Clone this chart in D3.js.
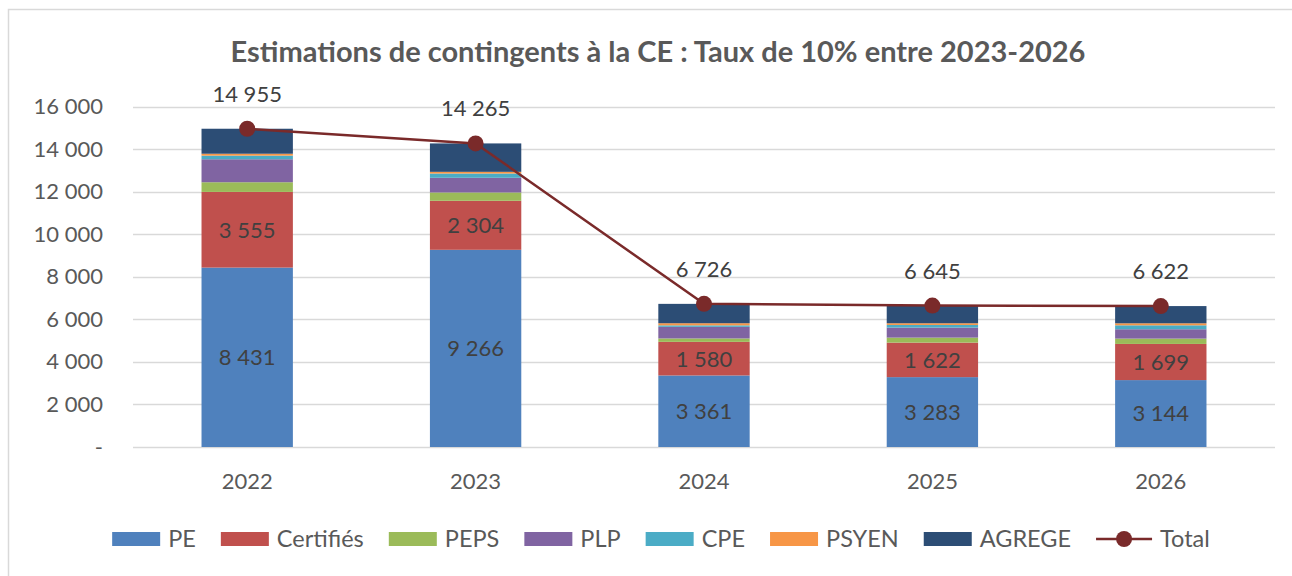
<!DOCTYPE html>
<html><head><meta charset="utf-8">
<script src="https://cdn.jsdelivr.net/npm/d3@7"></script>
<style>
html,body{margin:0;padding:0;background:#fff;}
svg{display:block;font-family:Lato, "Open Sans", sans-serif;}
</style></head>
<body><svg id="c" width="1292" height="576"></svg>
<script>
const years = ["2022","2023","2024","2025","2026"];
const seriesNames = ["PE","Certifiés","PEPS","PLP","CPE","PSYEN","AGREGE"];
const PE = [8431, 9266, 3361, 3283, 3144];
const Certifies = [3555, 2304, 1580, 1622, 1699];
const PEPS = [455, 390, 160, 235, 250];
const PLP = [1080, 690, 545, 470, 440];
const CPE = [170, 200, 70, 125, 185];
const PSYEN = [90, 80, 100, 80, 95];
const AGREGE = [1174, 1335, 910, 830, 809];
const Total = [14955, 14265, 6726, 6645, 6622];
const yTicks = [0,2000,4000,6000,8000,10000,12000,14000,16000];
const colors = ["#4f81bd","#c0504d","#9bbb59","#8064a2","#4bacc6","#f79646","#2c4d75"];
const totalColor = "#7a2a2a";
const title = "Estimations de contingents à la CE : Taux de 10% entre 2023-2026";

const seriesValues = [PE, Certifies, PEPS, PLP, CPE, PSYEN, AGREGE];
const labelled = [true, true, false, false, false, false, false];

(function(){
const svg = d3.select("#c");
const fr = d3.formatLocale({decimal:",", thousands:" ", grouping:[3], currency:["","€"]});
const fmt = fr.format(",d");
const textColor = "#595959";
const labelColor = "#404040";

svg.append("rect").attr("x",8.5).attr("y",9.5).attr("width",1400).attr("height",700)
  .attr("fill","none").attr("stroke","#d9d9d9").attr("stroke-width",1.5);

const pLeft = 133, pRight = 1275, pTop = 106.5, pBottom = 447;
const x = d3.scaleBand().domain(years).range([pLeft,pRight]).paddingInner(0.6).paddingOuter(0.3);
const y = d3.scaleLinear().domain([0,16000]).range([pBottom, pTop]);

svg.append("text").attr("x",658).attr("y",62).attr("text-anchor","middle")
  .attr("font-weight","bold").attr("font-size",29).attr("fill",textColor).text(title);

svg.append("g").selectAll("line").data(yTicks).join("line")
  .attr("x1",pLeft).attr("x2",pRight).attr("y1",d=>Math.round(y(d))+0.5).attr("y2",d=>Math.round(y(d))+0.5)
  .attr("stroke","#d9d9d9").attr("stroke-width",1.6);

const yAxis = d3.axisLeft(y).tickValues(yTicks).tickSize(0).tickPadding(0)
  .tickFormat(d => d===0 ? "-" : fmt(d));
const gy = svg.append("g").attr("transform",`translate(103,0)`).call(yAxis);
gy.select(".domain").remove();
gy.selectAll("text").attr("font-size",22).attr("fill",textColor).attr("font-family","Lato, sans-serif");

const xAxis = d3.axisBottom(x).tickSize(0).tickPadding(0);
const gx = svg.append("g").attr("transform",`translate(0,${pBottom+26})`).call(xAxis);
gx.select(".domain").remove();
gx.selectAll("text").attr("font-size",22).attr("fill",textColor).attr("font-family","Lato, sans-serif");

const table = years.map((yr,i)=>{ const o={year:yr}; seriesNames.forEach((s,j)=>o[s]=seriesValues[j][i]); return o; });
const stacked = d3.stack().keys(seriesNames)(table);
const gBars = svg.append("g");
stacked.forEach((layer,j)=>{
  gBars.append("g").attr("fill",colors[j]).selectAll("rect").data(layer).join("rect")
    .attr("x",d=>x(d.data.year)).attr("width",x.bandwidth())
    .attr("y",d=>y(d[1])).attr("height",d=>y(d[0])-y(d[1]));
});
stacked.forEach((layer,j)=>{
  if(!labelled[j]) return;
  svg.append("g").selectAll("text").data(layer).join("text")
    .attr("x",d=>x(d.data.year)+x.bandwidth()/2).attr("y",d=>(y(d[0])+y(d[1]))/2)
    .attr("dy","0.36em").attr("text-anchor","middle").attr("font-size",22).attr("fill",labelColor)
    .text(d=>fmt(d[1]-d[0]));
});

const cx = i => x(years[i]) + x.bandwidth()/2;
const line = d3.line().x((d,i)=>cx(i)).y(d=>y(d));
svg.append("path").datum(Total).attr("d",line).attr("fill","none").attr("stroke",totalColor).attr("stroke-width",2.5);
svg.append("g").selectAll("circle").data(Total).join("circle")
  .attr("cx",(d,i)=>cx(i)).attr("cy",d=>y(d)).attr("r",8).attr("fill",totalColor);
svg.append("g").selectAll("text").data(Total).join("text")
  .attr("x",(d,i)=>cx(i)).attr("y",d=>y(d)-35).attr("dy","0.36em").attr("text-anchor","middle")
  .attr("font-size",22).attr("fill",labelColor).text(d=>fmt(d));

const legendItems = seriesNames.map((s,j)=>({name:s,color:colors[j],type:"rect"}));
legendItems.push({name:"Total",color:totalColor,type:"line"});
const lg = svg.append("g");
const ly = 539;
const sw = 48, gapT = 8, gapI = 25;
const items = legendItems.map(it=>{
  const g = lg.append("g");
  if(it.type==="rect"){
    g.append("rect").attr("x",0).attr("y",ly-7).attr("width",sw).attr("height",14).attr("fill",it.color);
  } else {
    g.append("line").attr("x1",0).attr("x2",sw+8).attr("y1",ly).attr("y2",ly).attr("stroke",it.color).attr("stroke-width",2.5);
    g.append("circle").attr("cx",(sw+8)/2).attr("cy",ly).attr("r",8).attr("fill",it.color);
  }
  const w0 = it.type==="rect"?sw:sw+8;
  const t = g.append("text").attr("x",w0+gapT).attr("y",ly).attr("dy","0.36em").attr("font-size",23.5).attr("fill",textColor).text(it.name);
  const w = w0+gapT+t.node().getComputedTextLength();
  return {g,w};
});
const totalW = d3.sum(items,d=>d.w) + gapI*(items.length-1);
let cur = 661 - totalW/2;
items.forEach(it=>{ it.g.attr("transform",`translate(${cur},0)`); cur += it.w + gapI; });
})();
</script></body></html>
